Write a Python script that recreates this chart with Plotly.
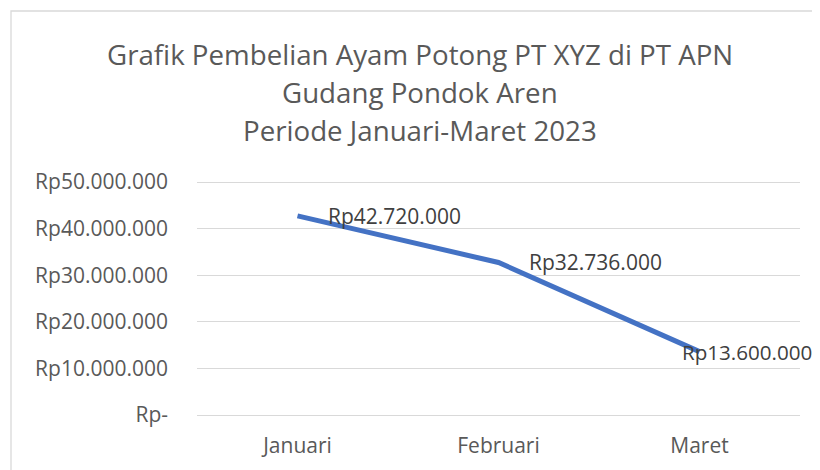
import plotly.graph_objects as go

months = ["Januari", "Februari", "Maret"]
purchases = [42720000, 32736000, 13600000]
label_text = ["Rp42.720.000", "Rp32.736.000", "Rp13.600.000"]
tick_vals = [0, 10000000, 20000000, 30000000, 40000000, 50000000]
tick_text = ["Rp-", "Rp10.000.000", "Rp20.000.000", "Rp30.000.000", "Rp40.000.000", "Rp50.000.000"]
title_lines = ["Grafik Pembelian Ayam Potong PT XYZ di PT APN", "Gudang Pondok Aren", "Periode Januari-Maret 2023"]

FONT = "Open Sans"
GREY = "#595959"

# page layout (the page body has an 8px margin)
OFF = 8
W, H = 820 - OFF, 470 - OFF
PL, PR, PT, PB = 197, 800, 180, 417  # plot area in page pixels
EPS = 430000

def px_x(p):
    return (p - PL) / (PR - PL)

def px_y(p):
    return (PB - p) / (PB - PT)

fig = go.Figure()
fig.add_trace(go.Scatter(
    x=months, y=purchases, mode="lines",
    line=dict(color="#4472C4", width=5),
    hoverinfo="skip", showlegend=False,
))

label_shift = [28, 28, -20]
label_size = [21, 21, 20.6]
for m, v, t, s, fs in zip(months, purchases, label_text, label_shift, label_size):
    fig.add_annotation(x=m, y=v, xref="x", yref="y", text=t, showarrow=False,
                       xanchor="left", yanchor="middle", xshift=s, yshift=0,
                       font=dict(family=FONT, size=fs, color="#404040"))

title_y_px = [54, 92, 130]
for line, py in zip(title_lines, title_y_px):
    fig.add_annotation(x=px_x(420), xref="paper", y=px_y(py), yref="paper",
                       text=line, showarrow=False, xanchor="center", yanchor="middle",
                       font=dict(family=FONT, size=27.7, color=GREY))

fig.add_shape(type="rect", xref="paper", yref="paper",
              x0=px_x(11), x1=px_x(840), y0=px_y(490), y1=px_y(11),
              line=dict(color="#D9D9D9", width=1.3), fillcolor="rgba(0,0,0,0)", layer="below")

fig.update_layout(
    width=W, height=H,
    margin=dict(l=PL - OFF, r=W - (PR - OFF), t=PT - OFF, b=H - (PB - OFF), autoexpand=False),
    paper_bgcolor="white", plot_bgcolor="white",
    font=dict(family=FONT, color=GREY),
    xaxis=dict(range=[-0.5, 2.5], showgrid=False, zeroline=False, showline=False,
               ticks="", tickfont=dict(size=21, color=GREY), ticklabelstandoff=14),
    yaxis=dict(range=[-EPS, 50000000 + EPS], tickvals=tick_vals, ticktext=tick_text,
               showgrid=True, gridcolor="#D9D9D9", gridwidth=1.3, zeroline=False,
               showline=False, ticks="", tickfont=dict(size=21, color=GREY),
               ticklabelstandoff=28),
)

fig.write_html("out.html")
